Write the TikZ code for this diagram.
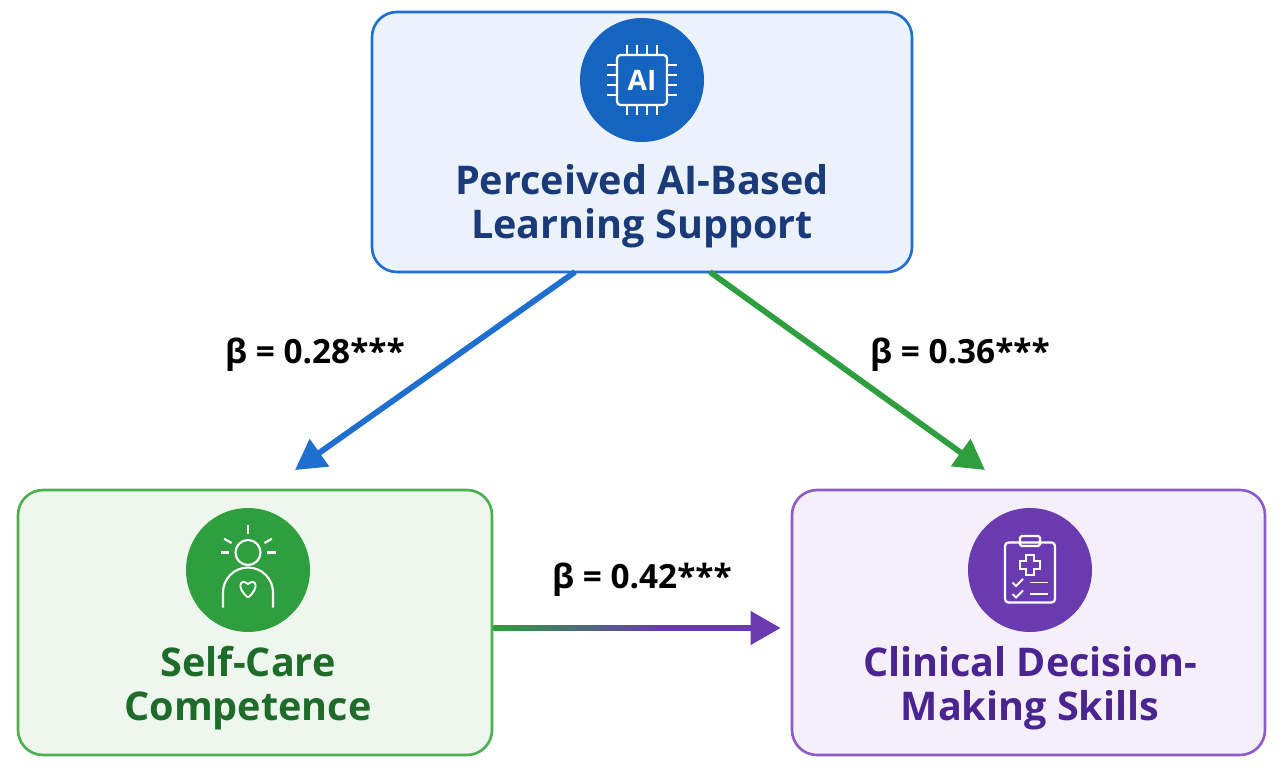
\documentclass[tikz,border=0pt]{standalone}
\usepackage{fontspec}
\setmainfont{Open Sans}
\usepackage{tikz}
\usetikzlibrary{arrows.meta,shapes,positioning,calc}
\definecolor{aiblue}{RGB}{30,111,208}
\definecolor{aidark}{RGB}{21,101,192}
\definecolor{ainavy}{RGB}{26,58,122}
\definecolor{scgreen}{RGB}{76,175,80}
\definecolor{scdark}{RGB}{46,158,62}
\definecolor{sctext}{RGB}{30,107,42}
\definecolor{cdpurple}{RGB}{142,92,200}
\definecolor{cddark}{RGB}{106,59,176}
\definecolor{cdtext}{RGB}{74,36,144}

\begin{document}
\begin{tikzpicture}[
    box/.style={rectangle, rounded corners=0.5cm, line width=1.5pt, minimum width=#1},
    icon/.style={circle, minimum size=2.48cm, inner sep=0pt},
    lbl/.style={font=\bfseries\fontsize{22.5}{25}\selectfont, align=center},
    beta/.style={font=\bfseries\fontsize{19}{22}\selectfont},
    arr/.style={line width=3.3pt, -{Triangle[length=0.6cm, width=0.65cm]}}
]
    \useasboundingbox (0,0) rectangle (25.6,15.46);

    % boxes
    \node[box=10.8cm, draw=aiblue, fill=aiblue!9, minimum height=5.2cm] (ai) at (12.84,12.62) {};
    \node[box=9.48cm, draw=scgreen, fill=scgreen!10, minimum height=5.3cm] (sc) at (5.1,3.01) {};
    \node[box=9.46cm, draw=cdpurple, fill=cdpurple!10, minimum height=5.3cm] (cd) at (20.57,3.01) {};

    % icons
    \node[icon, fill=aidark] (aiicon) at (12.84,13.86) {};
    \node[icon, fill=scdark] (scicon) at (4.96,4.06) {};
    \node[icon, fill=cddark] (cdicon) at (20.6,4.06) {};

    % chip
    \draw[white, line width=1.3pt, rounded corners=2pt] ($(aiicon)+(-0.5,-0.5)$) rectangle ($(aiicon)+(0.5,0.5)$);
    \foreach \d in {-0.3,-0.1,0.1,0.3} {
        \draw[white, line width=1pt] ($(aiicon)+(\d,0.5)$) -- ++(0,0.2);
        \draw[white, line width=1pt] ($(aiicon)+(\d,-0.5)$) -- ++(0,-0.2);
        \draw[white, line width=1pt] ($(aiicon)+(0.5,\d)$) -- ++(0.2,0);
        \draw[white, line width=1pt] ($(aiicon)+(-0.5,\d)$) -- ++(-0.2,0);
    }
    \node[white, font=\bfseries\fontsize{16}{16}\selectfont] at (aiicon) {AI};

    % self-care person
    \draw[white, line width=1.2pt] ($(scicon)+(0,0.35)$) circle (0.25);
    \foreach \a in {0,30,90,150,180} {
        \draw[white, line width=1.2pt] ($(scicon)+(0,0.35)+(\a:0.38)$) -- ($(scicon)+(0,0.35)+(\a:0.55)$);
    }
    \draw[white, line width=1.2pt] ($(scicon)+(-0.5,-0.75)$) -- ++(0,0.3) arc[start angle=180, end angle=0, radius=0.5] -- ++(0,-0.3);
    \draw[white, line width=1.1pt] ($(scicon)+(0,-0.55)$) .. controls ($(scicon)+(-0.25,-0.35)$) and ($(scicon)+(-0.15,-0.15)$) .. ($(scicon)+(0,-0.28)$) .. controls ($(scicon)+(0.15,-0.15)$) and ($(scicon)+(0.25,-0.35)$) .. ($(scicon)+(0,-0.55)$);

    % clipboard
    \draw[white, line width=1.3pt, rounded corners=2pt] ($(cdicon)+(-0.5,-0.65)$) rectangle ($(cdicon)+(0.5,0.55)$);
    \draw[white, line width=1.3pt, rounded corners=1pt] ($(cdicon)+(-0.2,0.48)$) rectangle ($(cdicon)+(0.2,0.68)$);
    \draw[white, line width=1.2pt] ($(cdicon)+(-0.08,0.3)$) -- ++(0.16,0) -- ++(0,-0.12) -- ++(0.12,0) -- ++(0,-0.16) -- ++(-0.12,0) -- ++(0,-0.12) -- ++(-0.16,0) -- ++(0,0.12) -- ++(-0.12,0) -- ++(0,0.16) -- ++(0.12,0) -- cycle;
    \foreach \y in {-0.25,-0.48} {
        \draw[white, line width=1.1pt] ($(cdicon)+(-0.35,\y)$) -- ++(0.07,-0.07) -- ++(0.14,0.14);
        \draw[white, line width=1.1pt] ($(cdicon)+(0,\y)$) -- ++(0.35,0);
    }

    % labels
    \node[lbl, text=ainavy] (ailbl) at (12.84,11.33) {Perceived AI-Based\\Learning Support};
    \node[lbl, text=sctext] (sclbl) at (4.96,1.69) {Self-Care\\Competence};
    \node[lbl, text=cdtext] (cdlbl) at (20.6,1.69) {Clinical Decision-\\Making Skills};

    % paths
    \coordinate (aiL) at (11.5,10.02);
    \coordinate (aiR) at (14.2,10.02);
    \coordinate (scT) at (5.9,6.06);
    \coordinate (cdT) at (19.7,6.06);
    \coordinate (mid) at (13.2,2.9);
    \draw[arr, aiblue] (aiL) -- (scT);
    \draw[arr, scdark] (aiR) -- (cdT);
    \shade[left color=scdark, right color=cddark] ($(sc.east |- mid)+(0,-0.058)$) rectangle ($(mid)+(0,0.058)$);
    \draw[arr, cddark] (mid) -- ($(cd.west |- mid)+(-0.2,0)$);

    \node[beta] (b1) at (6.3,8.36) {β = 0.28***};
    \node[beta] (b2) at (19.2,8.36) {β = 0.36***};
    \node[beta] (b3) at (12.84,3.86) {β = 0.42***};
\end{tikzpicture}
\end{document}
